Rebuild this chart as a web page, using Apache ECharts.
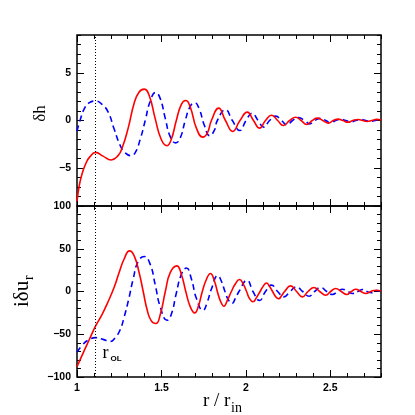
<!DOCTYPE html>
<html><head><meta charset="utf-8">
<script src="https://cdn.jsdelivr.net/npm/echarts@6/dist/echarts.min.js"></script>
<style>html,body{margin:0;padding:0;background:#fff}#c{width:415px;height:415px}</style>
</head><body><div id="c"></div>
<script>
// ---- data ----
const xTicks = [1, 1.5, 2, 2.5];
const topYTicks = [-5, 0, 5];
const botYTicks = [-100, -50, 0, 50, 100];
const rOL = 1.111;

const topRedR = [1.000,1.012,1.030,1.053,1.077,1.111,1.154,1.202,1.243,1.267,1.303,1.338,1.368,1.398,1.428,1.463,1.499,1.533,1.558,1.588,1.618,1.644,1.671,1.707,1.745,1.772,1.796,1.839,1.879,1.922,1.965,2.008,2.045,2.081,2.116,2.152,2.188,2.222,2.259,2.295,2.327,2.360,2.393,2.423,2.455,2.489,2.517,2.546,2.574,2.605,2.633,2.665,2.692,2.716,2.746,2.774,2.800];
const topRedV = [-8.5,-7.0,-5.6,-4.5,-3.8,-3.35,-3.75,-4.15,-3.7,-2.9,-0.8,1.8,3.0,3.3,2.6,0.2,-2.0,-2.65,-2.0,0,1.7,2.1,1.4,-0.8,-1.75,-1.3,0,1.3,0,-1.15,0,0.88,0,-0.8,0,0.56,0,-0.53,0,0.35,0,-0.42,0,0.25,0,-0.28,0,0.14,0,-0.18,0,0.1,0,-0.1,0,0.12,0.05];

const topBlueR = [1.000,1.018,1.042,1.071,1.111,1.148,1.184,1.220,1.255,1.285,1.318,1.344,1.374,1.404,1.433,1.466,1.493,1.523,1.552,1.585,1.612,1.641,1.671,1.698,1.724,1.754,1.786,1.814,1.831,1.879,1.920,1.964,2.001,2.037,2.072,2.106,2.140,2.176,2.211,2.245,2.276,2.312,2.348,2.378,2.407,2.443,2.473,2.502,2.532,2.562,2.591,2.621,2.651,2.681,2.710,2.737,2.764,2.787,2.800];
const topBlueV = [-1.1,0,1.2,1.85,2.05,1.7,0.9,-0.9,-2.6,-3.4,-3.7,-3.4,-2.0,0,2.0,2.95,2.3,0.2,-1.7,-2.35,-1.8,0,1.5,1.85,1.2,-0.5,-1.6,-1.0,0,1.13,0,-1.06,0,0.77,0,-0.7,0,0.46,0,-0.46,0,0.3,0,-0.35,0,0.22,0,-0.25,0,0.12,0,-0.15,0,0.1,0,-0.1,0,0.05,0];

const botRedR = [1.000,1.036,1.071,1.111,1.148,1.184,1.220,1.249,1.279,1.311,1.338,1.368,1.392,1.416,1.439,1.467,1.493,1.523,1.552,1.591,1.618,1.644,1.671,1.697,1.719,1.742,1.766,1.790,1.814,1.831,1.849,1.870,1.891,1.914,1.938,1.962,1.986,2.004,2.021,2.042,2.063,2.084,2.102,2.122,2.140,2.158,2.176,2.194,2.211,2.229,2.265,2.300,2.334,2.368,2.403,2.437,2.473,2.502,2.532,2.565,2.597,2.624,2.651,2.681,2.710,2.740,2.770,2.800];
const botRedV = [-88,-72,-57,-40,-27,-12,5,22,38,47.5,42,22,0,-22,-34,-37.4,-27,0,22,30,20,0,-18,-25,-17,0,14,21,12,0,-11,-17.2,-10,0,9,14,8,0,-8,-12,-7,0,6,10,6,0,-6,-8.5,-5,0,6.6,0,-6.3,0,4.7,0,-4.3,0,3.5,0,-3.5,0,2.7,0,-2.4,0,1.5,0.5];

const botBlueR = [1.000,1.030,1.065,1.111,1.154,1.196,1.226,1.255,1.279,1.305,1.333,1.362,1.398,1.433,1.463,1.493,1.533,1.558,1.588,1.618,1.648,1.677,1.707,1.746,1.772,1.796,1.834,1.855,1.876,1.897,1.917,1.938,1.959,2.007,2.042,2.081,2.116,2.152,2.188,2.225,2.262,2.300,2.336,2.374,2.407,2.443,2.479,2.512,2.544,2.572,2.603,2.631,2.663,2.691,2.716,2.744,2.774,2.800];
const botBlueV = [-71,-63,-57,-54,-56,-58.5,-54,-45,-30,-10,15,35,41,32,8,-18,-33.6,-27,-2,20,27.5,15,-8,-22,-12,3,18.5,12,0,-10,-14,-8,0,13,0,-10.5,0,7.4,0,-6.3,0,5.4,0,-5.5,0,4.7,0,-3.5,0,2.7,0,-2.4,0,2.3,0,-1.5,1,0.5];

// ---- chart ----
const zip = (a, b) => a.map((v, i) => [v, b[i]]);
const black = '#000';
const fmt = v => (v < 0 ? '\u2212' + Math.abs(v) : String(v));
const labelStyle = {fontFamily: '"Liberation Sans", Arial, sans-serif', fontWeight: 'bold', fontSize: 10.5, color: black};
const serif = '"Liberation Serif", "Times New Roman", serif';

function baseAxis(gridIndex, position, major, min, max) {
  return {type: 'value', gridIndex, position, min, max,
    axisLine: {show: false, onZero: false}, splitLine: {show: false},
    axisTick: {show: true, inside: true, length: major ? 7 : 4, lineStyle: {color: black, width: 1}},
    axisLabel: {show: false}};
}
function xa(gridIndex, position, major, showLabel) {
  const a = baseAxis(gridIndex, position, major, 1, 2.8);
  if (major) {
    a.interval = 0.5;
    a.axisTick.customValues = xTicks;
    a.axisLabel = Object.assign({show: showLabel, customValues: xTicks, margin: 6, formatter: fmt}, labelStyle);
  } else {
    a.interval = 0.1;
  }
  return a;
}
function ya(gridIndex, position, major, showLabel, min, max, minorInt, ticks) {
  const a = baseAxis(gridIndex, position, major, min, max);
  if (major) {
    a.axisTick.customValues = ticks;
    a.axisLabel = Object.assign({show: showLabel, customValues: ticks, margin: 6, formatter: fmt}, labelStyle);
  } else {
    a.interval = minorInt;
  }
  return a;
}

const xAxis = [
  xa(0, 'bottom', true, false), xa(0, 'bottom', false), xa(0, 'top', true, false), xa(0, 'top', false),
  xa(1, 'bottom', true, true), xa(1, 'bottom', false), xa(1, 'top', true, false), xa(1, 'top', false)
];
const yAxis = [
  ya(0, 'left', true, true, -9, 9, 1, topYTicks), ya(0, 'left', false, false, -9, 9, 1),
  ya(0, 'right', true, false, -9, 9, 1, topYTicks), ya(0, 'right', false, false, -9, 9, 1),
  ya(1, 'left', true, true, -100, 100, 10, botYTicks), ya(1, 'left', false, false, -100, 100, 10),
  ya(1, 'right', true, false, -100, 100, 10, botYTicks), ya(1, 'right', false, false, -100, 100, 10)
];

const vline = {silent: true, symbol: 'none', label: {show: false},
  lineStyle: {type: [1, 2], color: black, width: 1}, data: [{xAxis: rOL}]};

function line(data, xi, yi, color, dashed, mark) {
  const s = {type: 'line', xAxisIndex: xi, yAxisIndex: yi, data, smooth: 0.5,
    showSymbol: false, symbol: 'none',
    lineStyle: {color, width: 1.6, type: dashed ? [6, 4] : 'solid'}};
  if (mark) s.markLine = vline;
  return s;
}

const chart = echarts.init(document.getElementById('c'), null, {renderer: 'canvas'});
chart.setOption({
  animation: false,
  backgroundColor: '#fff',
  grid: [
    {left: 77, top: 35, width: 304, height: 171, show: true, borderColor: black, borderWidth: 1.5, backgroundColor: 'transparent'},
    {left: 77, top: 206, width: 304, height: 171, show: true, borderColor: black, borderWidth: 1.5, backgroundColor: 'transparent'}
  ],
  xAxis, yAxis,
  series: [
    line(zip(topBlueR, topBlueV), 0, 0, '#0000ff', true, true),
    line(zip(topRedR, topRedV), 0, 0, '#ff0000', false, false),
    line(zip(botBlueR, botBlueV), 4, 4, '#0000ff', true, true),
    line(zip(botRedR, botRedV), 4, 4, '#ff0000', false, false)
  ],
  graphic: [
    {type: 'text', x: 40.5, y: 113.5, rotation: Math.PI / 2,
      style: {text: 'δh', font: '17px ' + serif, fill: black, align: 'center', verticalAlign: 'middle', textAlign: 'center', textVerticalAlign: 'middle'}},
    {type: 'group', x: 22.5, y: 307, rotation: Math.PI / 2, children: [
      {type: 'text', x: 0, y: 0, style: {text: 'iδu', font: '21px ' + serif, fill: black, align: 'left', verticalAlign: 'middle', textAlign: 'left', textVerticalAlign: 'middle'}},
      {type: 'text', x: 27, y: 6.5, style: {text: 'r', font: '14px ' + serif, fill: black, align: 'left', verticalAlign: 'middle', textAlign: 'left', textVerticalAlign: 'middle'}}
    ]},
    {type: 'text', x: 203, y: 401, style: {text: 'r / r', font: '19px ' + serif, fill: black, align: 'left', verticalAlign: 'middle', textAlign: 'left', textVerticalAlign: 'middle'}},
    {type: 'text', x: 231, y: 408, style: {text: 'in', font: '14px ' + serif, fill: black, align: 'left', verticalAlign: 'middle', textAlign: 'left', textVerticalAlign: 'middle'}},
    {type: 'text', x: 102.5, y: 353, style: {text: 'r', font: '18px ' + serif, fill: black, align: 'left', verticalAlign: 'middle', textAlign: 'left', textVerticalAlign: 'middle'}},
    {type: 'text', x: 110.5, y: 358.5, style: {text: 'OL', font: 'bold 8px "Liberation Sans", Arial, sans-serif', fill: black, align: 'left', verticalAlign: 'middle', textAlign: 'left', textVerticalAlign: 'middle'}}
  ]
});
</script>
</body></html>
